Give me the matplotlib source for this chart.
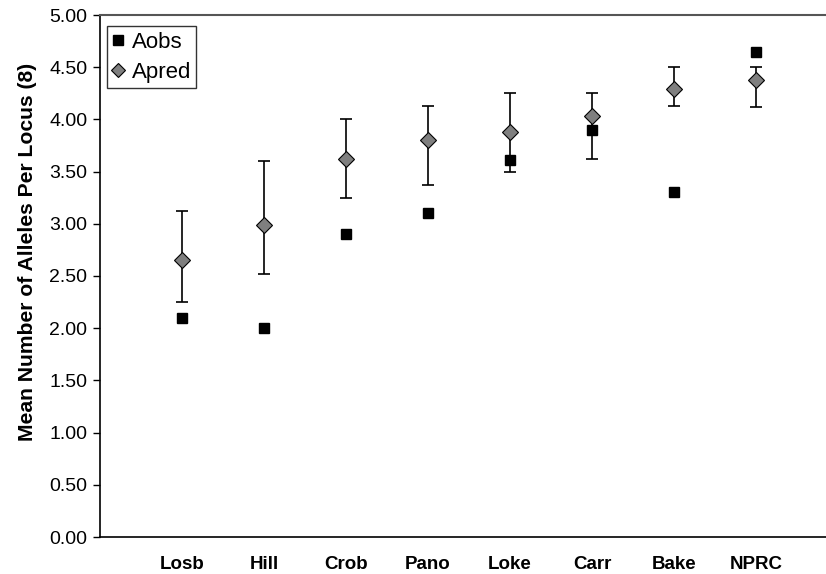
import matplotlib.pyplot as plt
import numpy as np

plt.rcParams['font.family'] = ['Liberation Sans', 'DejaVu Sans']

sites = ['Losb', 'Hill', 'Crob', 'Pano', 'Loke', 'Carr', 'Bake', 'NPRC']
aobs = [2.10, 2.00, 2.90, 3.10, 3.61, 3.90, 3.30, 4.65]
apred = [2.65, 2.99, 3.62, 3.80, 3.88, 4.03, 4.29, 4.38]
apred_hi = [3.12, 3.60, 4.00, 4.13, 4.25, 4.25, 4.50, 4.50]
apred_lo = [2.25, 2.52, 3.25, 3.37, 3.50, 3.62, 4.13, 4.12]

x = np.arange(1, len(sites) + 1)
yerr = [np.array(apred) - np.array(apred_lo), np.array(apred_hi) - np.array(apred)]

fig = plt.figure(figsize=(8.26, 5.74), dpi=100)
ax = fig.add_axes([100/826, 37/574, 738/826, 522/574])

ax.errorbar(x, apred, yerr=yerr, fmt='none', ecolor='black', elinewidth=1.2,
            capsize=4, capthick=1.2, zorder=2)
ax.plot(x, aobs, 's', color='black', markersize=7.5, label='Aobs', zorder=3)
ax.plot(x, apred, 'D', markerfacecolor='#7f7f7f', markeredgecolor='black',
        markeredgewidth=0.8, markersize=8, label='Apred', zorder=4)

ax.set_xlim(0, 9)
ax.set_ylim(0, 5)
ax.set_yticks(np.arange(0, 5.01, 0.5))
ax.set_yticklabels([f'{v:.2f}' for v in np.arange(0, 5.01, 0.5)])
ax.set_xticks(x)
ax.set_xticklabels(sites, fontweight='bold')
ax.tick_params(axis='x', length=0, pad=14, labelsize=13.5)
ax.tick_params(axis='y', length=5, width=1, labelsize=14, pad=4)
ax.set_ylabel('Mean Number of Alleles Per Locus (8)', fontsize=15.2,
              fontweight='bold')
ax.yaxis.set_label_coords(-0.085, 0.546)

for s in ['left', 'bottom']:
    ax.spines[s].set_linewidth(1.2)
ax.spines['top'].set_color('#555555')
ax.spines['top'].set_linewidth(1.5)
ax.spines['right'].set_visible(False)

leg = ax.legend(loc='upper left', bbox_to_anchor=(0.0095, 0.979), fontsize=16,
                frameon=True, fancybox=False, handlelength=0.5,
                handletextpad=0.35, borderpad=0.25, labelspacing=0.42,
                borderaxespad=0, markerscale=0.9)
leg.get_frame().set_edgecolor('black')
leg.get_frame().set_linewidth(1)

fig.savefig('out.png', dpi=100)
